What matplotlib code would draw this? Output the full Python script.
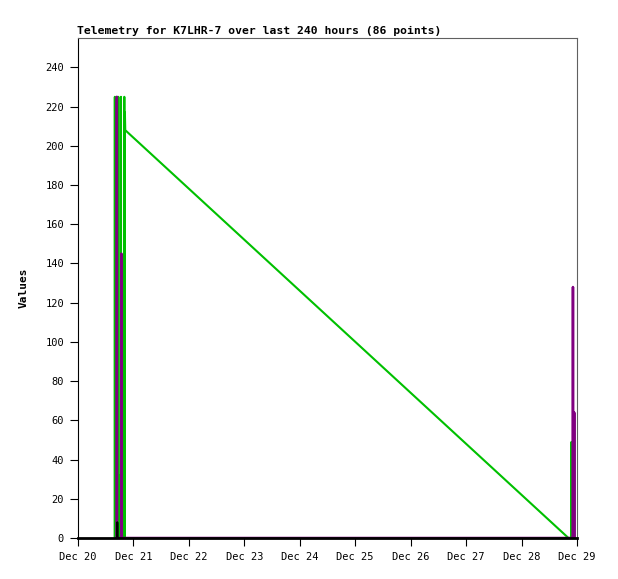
import numpy as np
import pandas as pd
import matplotlib
matplotlib.use('Agg')
import matplotlib.pyplot as plt
import matplotlib.dates as mdates

# hours after Dec 20 00:00 and channel values
green_hours = [15.9, 15.95, 16.0, 17.4, 17.45, 17.5, 17.95, 18.0, 18.05, 18.55, 18.6, 18.65,
               19.45, 19.5, 19.55, 20.0, 20.05, 20.15, 20.3, 20.45, 212.3,
               213.55, 213.6, 213.65]
green_vals = [0, 225, 0, 0, 225, 0, 0, 32, 0, 0, 225, 0,
              0, 73, 0, 0, 225, 0, 217, 208, 0,
              0, 49, 0]
purple_hours = [16.75, 16.8, 16.85, 16.9, 18.75, 18.8, 18.85,
                214.2, 214.25, 214.3, 214.75, 214.8, 214.85]
purple_vals = [0, 225, 145, 0, 0, 145, 0,
               0, 128, 0, 0, 64, 0]
black_hours = [16.95, 17.0, 17.05]
black_vals = [0, 8, 0]

start = pd.Timestamp('2023-12-20')
tick_days = pd.date_range('2023-12-20', '2023-12-29', freq='D')


def to_time(h):
    return start + pd.to_timedelta(h, unit='h')


mono = 'DejaVu Sans Mono'
fig = plt.figure(figsize=(6.18, 5.79), dpi=100)
ax = fig.add_axes([78 / 618, 41 / 579, 499 / 618, 500 / 579])

ax.plot(to_time(green_hours), green_vals, color='#00c000', lw=1.5)
ax.plot(to_time(purple_hours), purple_vals, color='#800080', lw=1.8)
ax.plot(to_time(black_hours), black_vals, color='black', lw=1.5)

ax.set_xlim(tick_days[0], tick_days[-1])
ax.set_ylim(0, 255)
ax.set_yticks(np.arange(0, 241, 20))
ax.set_xticks(tick_days)
ax.xaxis.set_major_formatter(mdates.DateFormatter('%b %d'))

for s in ['top', 'right']:
    ax.spines[s].set_color('#606060')
    ax.spines[s].set_linewidth(0.8)
ax.spines['left'].set_color('black')
ax.spines['left'].set_linewidth(0.8)
ax.spines['bottom'].set_color('black')
ax.spines['bottom'].set_linewidth(2)

ax.tick_params(direction='out', length=6, width=0.8, labelsize=7.5, pad=4)
for lab in ax.get_xticklabels() + ax.get_yticklabels():
    lab.set_fontfamily(mono)

ax.set_ylabel('Values', fontfamily=mono, fontweight='bold', fontsize=8, labelpad=12)
fig.text(77 / 618, 1 - 31 / 579, 'Telemetry for K7LHR-7 over last 240 hours (86 points)',
         fontfamily=mono, fontweight='bold', fontsize=8.2, ha='left', va='center')

fig.savefig('out.png', dpi=100)
